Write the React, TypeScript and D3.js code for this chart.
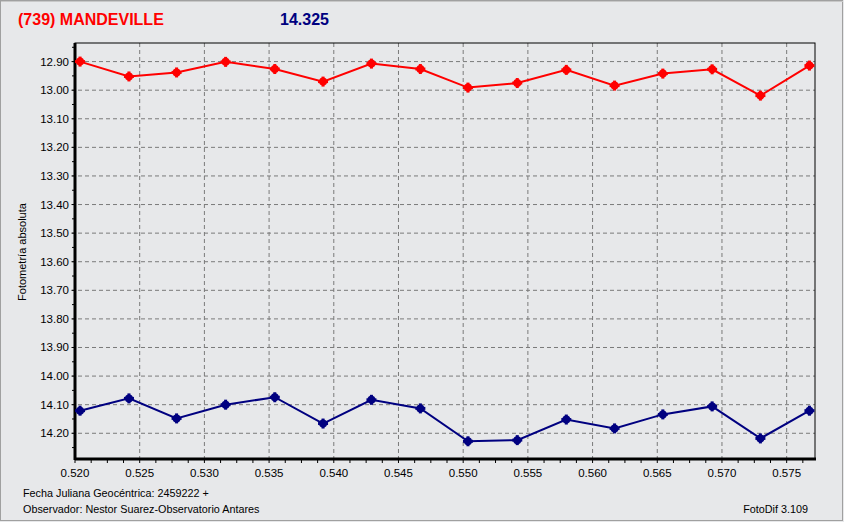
import React from "react";
import * as d3 from "d3";

const jd = [0.52039, 0.52417, 0.52785, 0.53164, 0.53544, 0.53917, 0.54291, 0.54669, 0.55037, 0.55418, 0.55797, 0.5617, 0.56543, 0.56924, 0.57297, 0.57676];
const redMag = [12.9, 12.952, 12.938, 12.901, 12.926, 12.97, 12.907, 12.926, 12.991, 12.975, 12.929, 12.984, 12.942, 12.927, 13.019, 12.914];
const blueMag = [14.121, 14.078, 14.148, 14.1, 14.074, 14.166, 14.083, 14.113, 14.228, 14.224, 14.152, 14.183, 14.134, 14.106, 14.218, 14.121];
const xTicks = [0.52, 0.525, 0.53, 0.535, 0.54, 0.545, 0.55, 0.555, 0.56, 0.565, 0.57, 0.575];
const yTicks = [12.9, 13.0, 13.1, 13.2, 13.3, 13.4, 13.5, 13.6, 13.7, 13.8, 13.9, 14.0, 14.1, 14.2];
const title = "(739) MANDEVILLE";
const subtitle = "14.325";
const yLabel = "Fotometría absoluta";
const footer1 = "Fecha Juliana Geocéntrica: 2459222 +";
const footer2 = "Observador: Nestor Suarez-Observatorio Antares";
const version = "FotoDif 3.109";

const W = 844, H = 522;
const L = 75, R = 815, T = 43, B = 459;
const font = "'Liberation Sans', Arial, sans-serif";

export default function App() {
  const x = d3.scaleLinear().domain([0.52, 0.57719]).range([L, R]);
  const y = d3.scaleLinear().domain([12.835, 14.29]).range([T, B]);
  const line = d3.line<number>().x((_, i) => x(jd[i])).y((d) => y(d));
  const xMinor = d3.range(0.52, 0.5772, 0.00125).filter((v) => x(v) <= R);
  const yMinor = d3.range(12.85, 14.29, 0.05).filter((v) => y(v) >= T && y(v) <= B);

  const series = [
    { data: redMag, color: "#ff0000" },
    { data: blueMag, color: "#000080" },
  ];

  return (
    <svg width={W} height={H} style={{ position: "absolute", left: 0, top: 0 }} fontFamily={font}>
      <rect x={0} y={0} width={W} height={H} fill="#e7e8ea" />
      <rect x={0.5} y={0.5} width={W - 2} height={H - 2} fill="none" stroke="#a0a0a0" strokeWidth={1} />
      <line x1={1} x2={W - 1} y1={1.5} y2={1.5} stroke="#c8c8c8" />
      <text x={18} y={25} fill="#ff0000" fontSize={16} fontWeight="bold">{title}</text>
      <text x={280} y={25} fill="#000080" fontSize={16} fontWeight="bold">{subtitle}</text>

      {/* grid */}
      {xTicks.map((t) => (
        <line key={"gx" + t} x1={x(t)} x2={x(t)} y1={T} y2={B} stroke="#7a7a7a" strokeDasharray="4,3" />
      ))}
      {yTicks.map((t) => (
        <line key={"gy" + t} x1={L - 4} x2={R} y1={y(t)} y2={y(t)} stroke="#7a7a7a" strokeDasharray="4,3" />
      ))}

      {/* minor ticks */}
      {xMinor.map((t, i) => (
        <line key={"mx" + i} x1={x(t)} x2={x(t)} y1={B} y2={B + 4} stroke="#000" />
      ))}
      {yMinor.map((t, i) => (
        <line key={"my" + i} x1={L - 3} x2={L} y1={y(t)} y2={y(t)} stroke="#000" />
      ))}

      {/* frame */}
      <rect x={L} y={T} width={R - L} height={B - T} fill="none" stroke="#000" strokeWidth={1} />
      <line x1={L} x2={L} y1={T} y2={B + 1} stroke="#000" strokeWidth={3} />
      <line x1={L} x2={R + 1} y1={B} y2={B} stroke="#000" strokeWidth={3} />

      {/* tick labels */}
      {yTicks.map((t) => (
        <text key={"ly" + t} x={69} y={y(t) + 4} textAnchor="end" fontSize={11.5} fill="#000">{t.toFixed(2)}</text>
      ))}
      {xTicks.map((t) => (
        <text key={"lx" + t} x={x(t)} y={477} textAnchor="middle" fontSize={11.5} fill="#000">{t.toFixed(3)}</text>
      ))}

      <text transform={`translate(26,252) rotate(-90)`} textAnchor="middle" fontSize={11} fill="#000">{yLabel}</text>

      {/* series */}
      {series.map((s, si) => (
        <g key={"s" + si}>
          <path d={line(s.data) || ""} fill="none" stroke={s.color} strokeWidth={2} />
          {s.data.map((v, i) => (
            <g key={i}>
              <circle cx={x(jd[i])} cy={y(v)} r={4} fill={s.color} />
              <rect x={x(jd[i]) - 1.5} y={y(v) - 5} width={3} height={10} fill={s.color} />
              <rect x={x(jd[i]) - 5} y={y(v) - 1.5} width={10} height={3} fill={s.color} />
            </g>
          ))}
        </g>
      ))}

      <text x={23} y={497} fontSize={10.8} fill="#000">{footer1}</text>
      <text x={23} y={513} fontSize={10.8} fill="#000">{footer2}</text>
      <text x={808} y={513} textAnchor="end" fontSize={10.8} fill="#000">{version}</text>
    </svg>
  );
}
